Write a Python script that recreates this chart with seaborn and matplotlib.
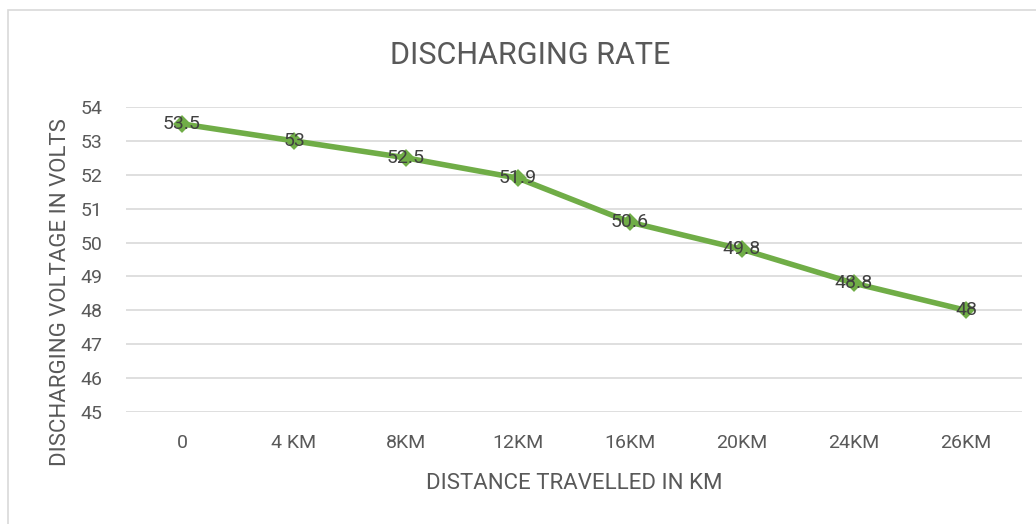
import matplotlib
matplotlib.use('Agg')
import matplotlib.pyplot as plt
import pandas as pd
import seaborn as sns
from matplotlib.patches import Rectangle

# ============================================================
# DATA
# ============================================================
distances = ['0', '4 KM', '8KM', '12KM', '16KM', '20KM', '24KM', '26KM']
voltages = [53.5, 53, 52.5, 51.9, 50.6, 49.8, 48.8, 48]
y_ticks = [45, 46, 47, 48, 49, 50, 51, 52, 53, 54]

LINE_COLOR = '#70AD47'
TEXT_COLOR = '#595959'

sns.set_style('white')
plt.rcParams['font.family'] = ['Roboto', 'DejaVu Sans']

df = pd.DataFrame({'distance': distances, 'voltage': voltages})

fig = plt.figure(figsize=(10.36, 5.24), dpi=100)
ax = fig.add_axes([0.1216, 0.2137, 0.8649, 0.5821])

sns.pointplot(data=df, x='distance', y='voltage', color=LINE_COLOR,
              markers='D', markersize=6, linewidth=4, ax=ax)
for ln in ax.lines:
    ln.set_markeredgecolor(LINE_COLOR)
    ln.set_solid_capstyle('round')

# data labels centred on each point
for i, v in enumerate(voltages):
    ax.text(i, v, f'{v:g}', ha='center', va='center', fontsize=14,
            color='#404040')

ax.set_ylim(45, 54)
ax.set_xlim(-0.5, len(distances) - 0.5)
ax.set_yticks(y_ticks)
ax.yaxis.grid(True, color='#D9D9D9', linewidth=1.2)
ax.set_axisbelow(True)
for s in ax.spines.values():
    s.set_visible(False)
ax.tick_params(axis='y', length=0, labelsize=14, labelcolor=TEXT_COLOR, pad=17)
ax.tick_params(axis='x', length=0, labelsize=14, labelcolor=TEXT_COLOR, pad=16)

ax.set_xlabel('DISTANCE TRAVELLED IN KM', fontsize=16, color=TEXT_COLOR)
ax.xaxis.set_label_coords(0.5, -0.2)
ax.set_ylabel('DISCHARGING VOLTAGE IN VOLTS', fontsize=16, color=TEXT_COLOR,
              va='center')
ax.yaxis.set_label_coords(-0.073, 0.393)
fig.text(0.512, 0.895, 'DISCHARGING RATE', ha='center', va='center',
         fontsize=22, color=TEXT_COLOR)

# chart border
fig.patches.append(Rectangle((0.008, -0.02), 1.02, 1.0, transform=fig.transFigure,
                             fill=False, edgecolor='#D9D9D9', linewidth=1.2))

fig.savefig('out.png', dpi=100)
